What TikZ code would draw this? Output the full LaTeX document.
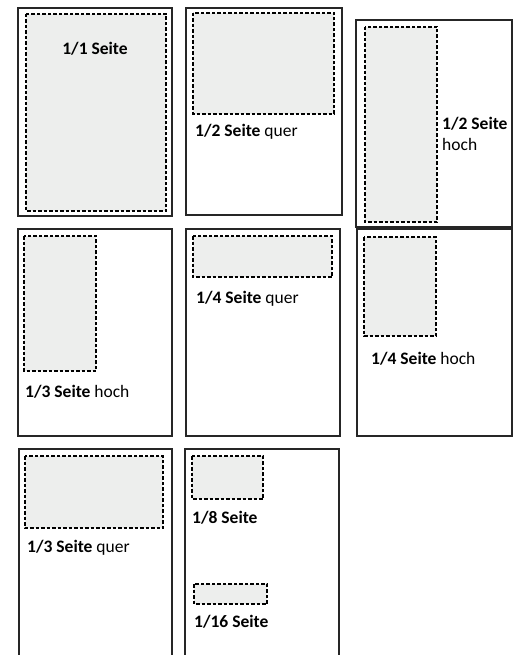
\documentclass[tikz,border=0pt]{standalone}
\usepackage{fontspec}
\setmainfont{Carlito}
\definecolor{adgray}{RGB}{237,238,237}

\begin{document}
\begin{tikzpicture}[
    x=1pt, y=-1pt,
    page/.style={draw=black!85, line width=1.1pt},
    ad/.style={draw=black, fill=adgray, line width=1.1pt, dash pattern=on 3.5pt off 2pt},
    lbl/.style={anchor=base west, inner sep=0pt, font=\fontsize{17.5}{21}\selectfont}
]
    \useasboundingbox (0,0) rectangle (519,655);

    % Row 1
    \draw[page] (18,8) rectangle (172,216);
    \draw[ad] (26,14) rectangle (166,211);
    \node[lbl, anchor=base] (full) at (95,55) {\textbf{1/1 Seite}};

    \draw[page] (186,8) rectangle (342,215);
    \draw[ad] (193,13) rectangle (334,114);
    \node[lbl] (halfquer) at (195,137) {\textbf{1/2 Seite} quer};

    \draw[page] (356,20) rectangle (512,227);
    \draw[ad] (365,27) rectangle (437,222);
    \node[lbl] (halfhoch) at (442,130) {\textbf{1/2 Seite}};
    \node[lbl] (halfhoch2) at (442,151) {hoch};

    % Row 2
    \draw[page] (18,229) rectangle (172,436);
    \draw[ad] (24,236) rectangle (96,371);
    \node[lbl] (thirdhoch) at (25,397) {\textbf{1/3 Seite} hoch};

    \draw[page] (186,229) rectangle (340,436);
    \draw[ad] (193,236) rectangle (332,277);
    \node[lbl] (quarterquer) at (196,303) {\textbf{1/4 Seite} quer};

    \draw[page] (357,229) rectangle (512,436);
    \draw[ad] (364,237) rectangle (436,336);
    \node[lbl] (quarterhoch) at (371,364) {\textbf{1/4 Seite} hoch};

    % Row 3 (cut off at the bottom)
    \draw[page] (19,665) -- (19,449) -- (172,449) -- (172,665);
    \draw[ad] (25,456) rectangle (163,528);
    \node[lbl] (thirdquer) at (27,552) {\textbf{1/3 Seite} quer};

    \draw[page] (185,665) -- (185,449) -- (339,449) -- (339,665);
    \draw[ad] (192,456) rectangle (263,499);
    \node[lbl] (eighth) at (192,523) {\textbf{1/8 Seite}};
    \draw[ad] (194,584) rectangle (267,604);
    \node[lbl] (sixteenth) at (194,627) {\textbf{1/16 Seite}};

\end{tikzpicture}
\end{document}
